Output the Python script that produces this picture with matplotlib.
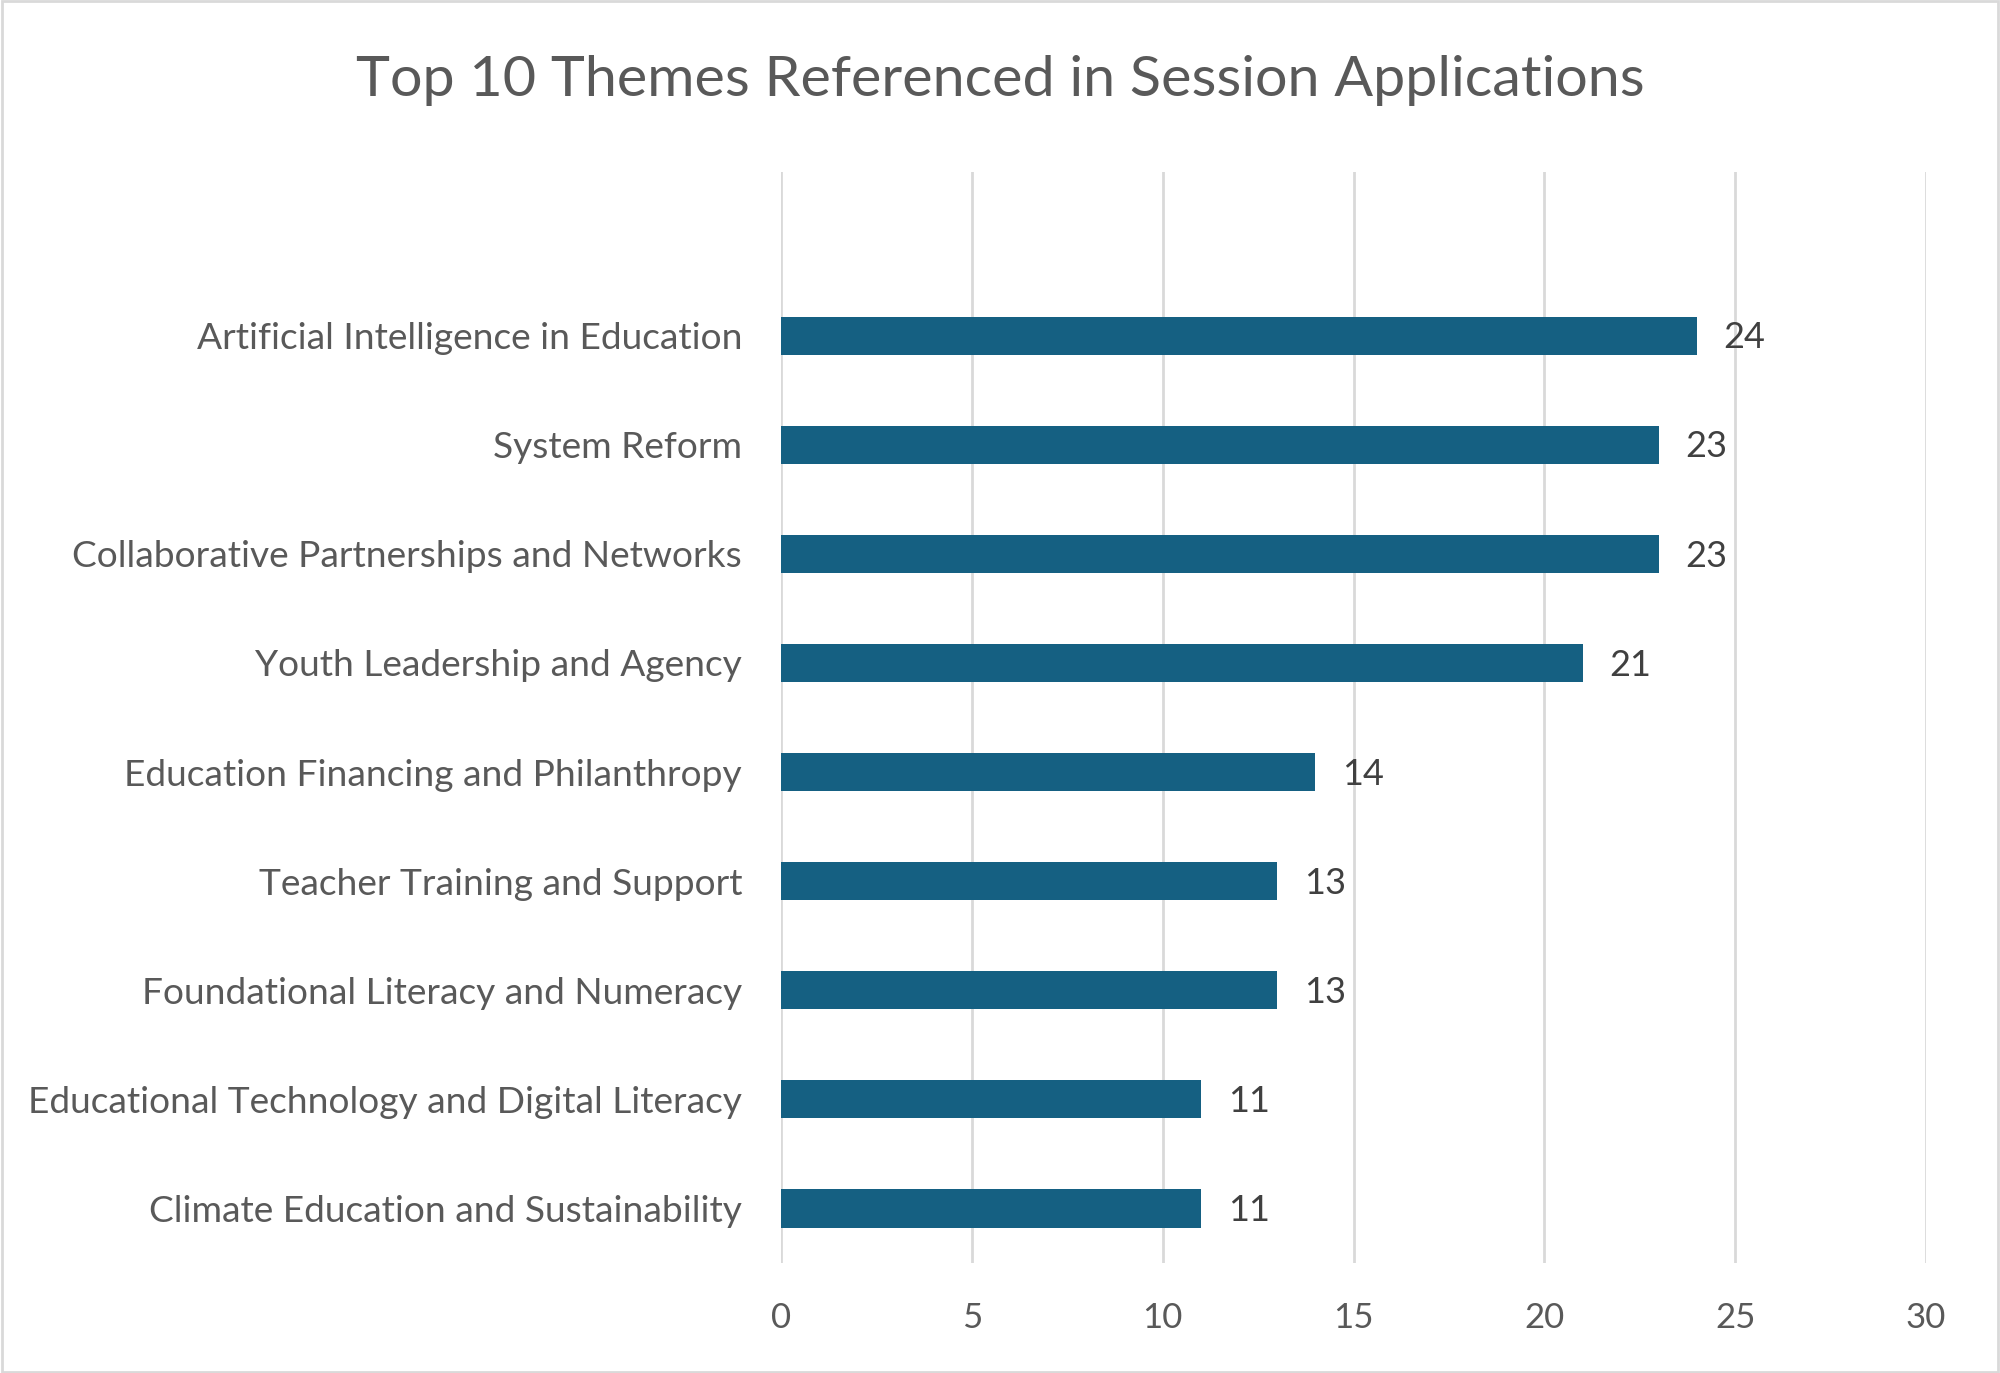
import matplotlib
matplotlib.use("Agg")
import matplotlib.pyplot as plt
from matplotlib.patches import Rectangle

plt.rcParams["font.family"] = ["Lato", "DejaVu Sans"]

# Data (top slot is empty in the original chart)
themes = [
    "",
    "Artificial Intelligence in Education",
    "System Reform",
    "Collaborative Partnerships and Networks",
    "Youth Leadership and Agency",
    "Education Financing and Philanthropy",
    "Teacher Training and Support",
    "Foundational Literacy and Numeracy",
    "Educational Technology and Digital Literacy",
    "Climate Education and Sustainability",
]
counts = [None, 24, 23, 23, 21, 14, 13, 13, 11, 11]
x_ticks = [0, 5, 10, 15, 20, 25, 30]

bar_color = "#156082"
text_gray = "#595959"
grid_gray = "#d9d9d9"

fig = plt.figure(figsize=(20, 13.73), dpi=100)
ax = fig.add_axes([781 / 2000, 1 - 1263 / 1373, (1926 - 781) / 2000, (1263 - 172) / 1373])

ypos = list(range(len(themes)))
vals = [v if v is not None else 0 for v in counts]
ax.barh(ypos, vals, height=0.35, color=bar_color, zorder=3)
for y, v in zip(ypos, counts):
    if v is not None:
        ax.text(v + 0.7, y + 0.02, str(v), va="center", ha="left", fontsize=26, color="#404040")

ax.set_ylim(len(themes) - 0.5, -0.5)
ax.set_xlim(0, 30)
ax.set_xticks(x_ticks)
ax.set_yticks(ypos)
ax.set_yticklabels(themes)
ax.tick_params(axis="y", length=0, pad=28, labelsize=26.7, labelcolor=text_gray)
ax.tick_params(axis="x", length=0, pad=28, labelsize=25, labelcolor=text_gray)
ax.xaxis.grid(True, color=grid_gray, linewidth=2, zorder=0)
for s in ax.spines.values():
    s.set_visible(False)

fig.text(0.5, 1 - 81 / 1373, "Top 10 Themes Referenced in Session Applications",
         ha="center", va="center", fontsize=41.4, color=text_gray)

fig.patches.append(Rectangle((0.001, 0.001), 0.998, 0.998, transform=fig.transFigure,
                             fill=False, edgecolor=grid_gray, linewidth=2))

fig.savefig("out.png", dpi=100)
